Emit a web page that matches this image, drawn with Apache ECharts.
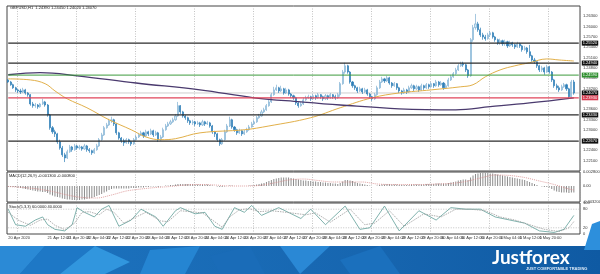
<!DOCTYPE html>
<html><head><meta charset="utf-8">
<script src="https://cdn.jsdelivr.net/npm/echarts/dist/echarts.min.js"></script>
<style>html,body{margin:0;padding:0;background:#fff}#c{width:600px;height:274px}</style>
</head><body><div id="c"></div>
<script>
// ---------------- DATA ----------------
const symbolTitle = 'GBPUSD,H1  1.24390 1.24450 1.24020 1.24070';
const macdTitle = 'MACD(12,26,9) -0.001300 -0.000800';
const stochTitle = 'Stoch(5,3,3) 60.0000 40.0000';
const firstBar = Date.UTC(2020, 3, 20, 20); // 20 Apr 2020 20:00
const barCount = 233;                         // incl. 2 empty bars of chart shift
const firstOpen = 1.2445;
const closes = [
1.2439,1.2431,1.2422,1.2416,1.2413,1.2410,1.2416,1.2407,1.2402,1.2375,
1.2370,1.2372,1.2367,1.2375,1.2381,1.2372,1.2343,1.2306,1.2294,1.2288,
1.2265,1.2247,1.2227,1.2218,1.2236,1.2250,1.2242,1.2253,1.2247,1.2250,
1.2244,1.2253,1.2242,1.2239,1.2233,1.2242,1.2253,1.2271,1.2285,1.2306,
1.2314,1.2326,1.2329,1.2317,1.2291,1.2276,1.2268,1.2262,1.2271,1.2265,
1.2259,1.2271,1.2279,1.2285,1.2291,1.2282,1.2294,1.2288,1.2297,1.2285,
1.2291,1.2271,1.2279,1.2300,1.2311,1.2317,1.2323,1.2329,1.2340,1.2370,
1.2352,1.2340,1.2335,1.2326,1.2320,1.2323,1.2317,1.2320,1.2314,1.2323,
1.2317,1.2320,1.2311,1.2294,1.2288,1.2271,1.2259,1.2271,1.2294,1.2311,
1.2329,1.2308,1.2300,1.2291,1.2297,1.2288,1.2294,1.2300,1.2308,1.2317,
1.2323,1.2335,1.2340,1.2352,1.2358,1.2370,1.2381,1.2402,1.2416,1.2422,
1.2413,1.2419,1.2407,1.2416,1.2404,1.2399,1.2393,1.2378,1.2370,1.2375,
1.2387,1.2393,1.2396,1.2390,1.2399,1.2393,1.2402,1.2396,1.2390,1.2399,
1.2393,1.2402,1.2396,1.2393,1.2402,1.2434,1.2468,1.2486,1.2468,1.2439,
1.2428,1.2422,1.2413,1.2419,1.2410,1.2416,1.2404,1.2396,1.2390,1.2402,
1.2422,1.2439,1.2448,1.2442,1.2451,1.2436,1.2428,1.2434,1.2422,1.2413,
1.2407,1.2416,1.2410,1.2422,1.2428,1.2419,1.2425,1.2416,1.2428,1.2422,
1.2431,1.2425,1.2434,1.2428,1.2439,1.2431,1.2436,1.2422,1.2428,1.2445,
1.2454,1.2463,1.2474,1.2486,1.2492,1.2489,1.2474,1.2457,1.2562,1.2597,
1.2608,1.2591,1.2576,1.2570,1.2565,1.2576,1.2582,1.2570,1.2562,1.2553,
1.2559,1.2550,1.2556,1.2544,1.2553,1.2547,1.2541,1.2550,1.2544,1.2533,
1.2538,1.2527,1.2515,1.2503,1.2498,1.2486,1.2474,1.2480,1.2468,1.2483,
1.2468,1.2445,1.2428,1.2422,1.2416,1.2425,1.2431,1.2419,1.2396,1.2439,
1.2407];
const highs = [
1.2448,1.2442,1.2434,1.2425,1.2419,1.2419,1.2422,1.2419,1.2410,1.2404,
1.2381,1.2378,1.2375,1.2378,1.2390,1.2384,1.2375,1.2346,1.2311,1.2300,
1.2291,1.2271,1.2253,1.2233,1.2242,1.2256,1.2253,1.2259,1.2256,1.2256,
1.2253,1.2259,1.2256,1.2247,1.2242,1.2247,1.2259,1.2276,1.2291,1.2311,
1.2320,1.2332,1.2338,1.2332,1.2320,1.2294,1.2279,1.2274,1.2276,1.2274,
1.2268,1.2276,1.2285,1.2291,1.2297,1.2294,1.2300,1.2297,1.2303,1.2300,
1.2297,1.2294,1.2285,1.2306,1.2317,1.2323,1.2329,1.2335,1.2346,1.2381,
1.2372,1.2355,1.2343,1.2338,1.2329,1.2329,1.2326,1.2326,1.2323,1.2329,
1.2326,1.2326,1.2323,1.2314,1.2297,1.2291,1.2274,1.2276,1.2300,1.2317,
1.2338,1.2332,1.2311,1.2303,1.2303,1.2300,1.2300,1.2306,1.2314,1.2323,
1.2329,1.2340,1.2346,1.2358,1.2364,1.2375,1.2387,1.2407,1.2425,1.2431,
1.2425,1.2428,1.2422,1.2422,1.2419,1.2407,1.2402,1.2396,1.2381,1.2381,
1.2393,1.2399,1.2402,1.2399,1.2404,1.2402,1.2407,1.2404,1.2399,1.2404,
1.2402,1.2407,1.2404,1.2402,1.2407,1.2439,1.2474,1.2495,1.2489,1.2471,
1.2442,1.2431,1.2425,1.2425,1.2422,1.2422,1.2419,1.2407,1.2399,1.2407,
1.2428,1.2445,1.2454,1.2451,1.2457,1.2454,1.2439,1.2439,1.2436,1.2425,
1.2416,1.2422,1.2419,1.2428,1.2434,1.2431,1.2431,1.2428,1.2434,1.2431,
1.2436,1.2434,1.2439,1.2436,1.2445,1.2442,1.2442,1.2439,1.2434,1.2451,
1.2460,1.2468,1.2480,1.2492,1.2498,1.2498,1.2492,1.2477,1.2567,1.2605,
1.2637,1.2614,1.2597,1.2582,1.2576,1.2582,1.2588,1.2585,1.2573,1.2565,
1.2565,1.2562,1.2562,1.2559,1.2559,1.2556,1.2550,1.2556,1.2553,1.2547,
1.2544,1.2541,1.2547,1.2518,1.2509,1.2500,1.2489,1.2486,1.2483,1.2489,
1.2486,1.2471,1.2448,1.2434,1.2428,1.2431,1.2436,1.2434,1.2422,1.2445,
1.2445];
const lows = [
1.2436,1.2428,1.2419,1.2410,1.2407,1.2404,1.2407,1.2402,1.2396,1.2370,
1.2364,1.2364,1.2361,1.2364,1.2372,1.2367,1.2338,1.2300,1.2288,1.2279,
1.2259,1.2242,1.2221,1.2206,1.2215,1.2233,1.2236,1.2239,1.2242,1.2242,
1.2239,1.2242,1.2236,1.2233,1.2227,1.2230,1.2239,1.2250,1.2268,1.2282,
1.2303,1.2311,1.2320,1.2311,1.2285,1.2271,1.2262,1.2253,1.2259,1.2259,
1.2253,1.2256,1.2268,1.2276,1.2282,1.2276,1.2279,1.2282,1.2285,1.2279,
1.2282,1.2265,1.2268,1.2276,1.2297,1.2308,1.2314,1.2320,1.2326,1.2338,
1.2346,1.2335,1.2329,1.2320,1.2314,1.2314,1.2311,1.2314,1.2308,1.2311,
1.2311,1.2314,1.2306,1.2288,1.2279,1.2265,1.2253,1.2256,1.2268,1.2291,
1.2308,1.2303,1.2294,1.2285,1.2288,1.2282,1.2285,1.2291,1.2297,1.2306,
1.2314,1.2320,1.2332,1.2338,1.2349,1.2355,1.2367,1.2378,1.2399,1.2413,
1.2407,1.2410,1.2402,1.2404,1.2399,1.2393,1.2387,1.2372,1.2364,1.2367,
1.2372,1.2384,1.2390,1.2384,1.2387,1.2387,1.2390,1.2390,1.2384,1.2387,
1.2387,1.2390,1.2390,1.2387,1.2390,1.2396,1.2431,1.2463,1.2463,1.2434,
1.2422,1.2416,1.2407,1.2410,1.2404,1.2407,1.2399,1.2390,1.2384,1.2387,
1.2399,1.2419,1.2436,1.2436,1.2439,1.2431,1.2422,1.2425,1.2416,1.2407,
1.2402,1.2404,1.2404,1.2407,1.2419,1.2413,1.2416,1.2410,1.2413,1.2416,
1.2419,1.2419,1.2422,1.2422,1.2425,1.2425,1.2428,1.2416,1.2419,1.2425,
1.2442,1.2451,1.2460,1.2471,1.2483,1.2483,1.2468,1.2451,1.2454,1.2556,
1.2591,1.2585,1.2570,1.2562,1.2559,1.2562,1.2570,1.2565,1.2556,1.2547,
1.2547,1.2544,1.2544,1.2538,1.2541,1.2541,1.2535,1.2538,1.2538,1.2527,
1.2530,1.2521,1.2509,1.2498,1.2492,1.2480,1.2468,1.2468,1.2460,1.2466,
1.2463,1.2439,1.2422,1.2416,1.2410,1.2413,1.2422,1.2413,1.2390,1.2393,
1.2402];
// moving averages: [bar index, price]
const maFast = [[0,1.2448],[9,1.2445],[15,1.2434],[19,1.2413],[24,1.2390],[32,1.2364],[41,1.2329],[50,1.2300],[56,1.2279],[62,1.2271],[68,1.2274],[78,1.2291],[96,1.2300],[106,1.2311],[123,1.2335],[135,1.2364],[148,1.2393],[159,1.2407],[172,1.2416],[184,1.2425],[189,1.2431],[194,1.2454],[200,1.2474],[206,1.2486],[212,1.2495],[219,1.2506],[224,1.2503],[230,1.2500]];
const maSlow = [[0,1.2460],[13,1.2466],[28,1.2457],[52,1.2436],[78,1.2416],[100,1.2393],[119,1.2381],[135,1.2372],[159,1.2361],[182,1.2358],[196,1.2367],[212,1.2378],[230,1.2393]];
// horizontal levels
const levelValues = [1.2552, 1.2494, 1.2459, 1.2393, 1.2343, 1.2267];
const levelKinds  = ['black','black','green','red','black','black'];
const bidPrice = 1.2407;
// MACD histogram per bar and signal line [bar, value]
const macdHist = [
-0.0002,-0.0002,-0.0002,-0.0002,-0.0003,-0.0004,-0.0005,-0.0006,-0.0007,-0.0008,
-0.0009,-0.0010,-0.0011,-0.0011,-0.0012,-0.0012,-0.0014,-0.0017,-0.0019,-0.0021,
-0.0022,-0.0023,-0.0025,-0.0026,-0.0027,-0.0027,-0.0028,-0.0028,-0.0028,-0.0028,
-0.0027,-0.0027,-0.0026,-0.0025,-0.0024,-0.0022,-0.0020,-0.0018,-0.0016,-0.0013,
-0.0011,-0.0008,-0.0006,-0.0005,-0.0005,-0.0005,-0.0005,-0.0005,-0.0005,-0.0005,
-0.0004,-0.0004,-0.0004,-0.0003,-0.0003,-0.0003,-0.0002,-0.0002,-0.0001,-0.0001,
-0.0001,-0.0002,-0.0001,0.0000,0.0001,0.0001,0.0002,0.0002,0.0003,0.0004,
0.0004,0.0004,0.0004,0.0004,0.0004,0.0004,0.0003,0.0003,0.0003,0.0003,
0.0003,0.0003,0.0002,0.0001,0.0000,-0.0001,-0.0002,-0.0002,-0.0001,0.0000,
0.0001,0.0001,0.0000,0.0000,0.0000,0.0000,0.0000,0.0000,0.0001,0.0001,
0.0002,0.0003,0.0004,0.0005,0.0006,0.0008,0.0010,0.0012,0.0014,0.0015,
0.0016,0.0017,0.0017,0.0017,0.0017,0.0016,0.0015,0.0014,0.0013,0.0012,
0.0011,0.0011,0.0010,0.0010,0.0009,0.0009,0.0008,0.0008,0.0007,0.0007,
0.0006,0.0006,0.0005,0.0005,0.0004,0.0006,0.0009,0.0012,0.0012,0.0011,
0.0010,0.0008,0.0006,0.0005,0.0004,0.0003,0.0002,0.0001,0.0000,0.0000,
0.0001,0.0002,0.0003,0.0003,0.0004,0.0004,0.0003,0.0003,0.0003,0.0002,
0.0002,0.0002,0.0002,0.0002,0.0003,0.0003,0.0003,0.0003,0.0003,0.0003,
0.0004,0.0004,0.0004,0.0004,0.0005,0.0005,0.0005,0.0005,0.0005,0.0006,
0.0007,0.0008,0.0009,0.0011,0.0012,0.0013,0.0013,0.0012,0.0017,0.0021,
0.0024,0.0025,0.0026,0.0026,0.0026,0.0026,0.0025,0.0025,0.0024,0.0023,
0.0022,0.0021,0.0020,0.0019,0.0018,0.0017,0.0016,0.0015,0.0014,0.0013,
0.0012,0.0010,0.0008,0.0006,0.0004,0.0002,0.0000,-0.0001,-0.0002,-0.0002,
-0.0003,-0.0006,-0.0009,-0.0011,-0.0012,-0.0013,-0.0013,-0.0013,-0.0014,-0.0013,
-0.0013];
const macdSignal = [[0,-0.0001],[6,-0.0003],[12,-0.0006],[18,-0.0011],[24,-0.0018],[30,-0.0023],[36,-0.0024],[42,-0.0018],[48,-0.0010],[54,-0.0006],[60,-0.0003],[66,-0.0001],[72,0.0002],[78,0.0003],[84,0.0002],[90,0.0000],[96,0.0000],[102,0.0001],[108,0.0006],[114,0.0012],[120,0.0014],[126,0.0011],[132,0.0008],[138,0.0008],[144,0.0008],[150,0.0004],[156,0.0003],[162,0.0003],[168,0.0003],[174,0.0004],[180,0.0005],[186,0.0009],[192,0.0016],[198,0.0022],[204,0.0021],[210,0.0017],[216,0.0010],[222,0.0003],[228,-0.0006],[230,-0.0008]];
// stochastic [bar, value] and its levels
const stochK = [[0,80],[3,30],[7,25],[11,45],[14,55],[16,30],[19,15],[23,10],[26,30],[28,85],[31,70],[35,55],[38,80],[41,92],[45,25],[50,45],[54,80],[60,55],[63,25],[68,75],[70,85],[76,65],[80,70],[84,25],[87,15],[92,85],[96,70],[99,92],[103,60],[110,85],[119,50],[123,80],[129,30],[137,90],[143,15],[147,20],[153,90],[159,10],[167,75],[174,45],[180,85],[186,80],[192,80],[198,55],[204,45],[210,35],[216,10],[222,5],[226,15],[230,60]];
const stochD = [[0,70],[4,45],[9,28],[13,45],[16,48],[19,28],[23,14],[27,35],[30,70],[33,72],[37,62],[40,80],[43,70],[47,35],[52,55],[56,70],[62,42],[65,40],[70,75],[74,72],[79,68],[83,45],[87,22],[90,55],[94,78],[98,82],[102,72],[107,75],[113,70],[121,62],[125,68],[131,38],[139,80],[145,30],[149,35],[155,75],[161,25],[169,65],[176,55],[182,80],[188,80],[194,75],[200,55],[206,45],[212,30],[218,15],[224,8],[228,20],[230,40]];
const stochLevels = [80, 20];

// ---------------- BUILD ----------------
const MON = ['Jan','Feb','Mar','Apr','May','Jun','Jul','Aug','Sep','Oct','Nov','Dec'];
const cats = [];
for (let t = firstBar; cats.length < barCount; t += 3600000) {
  const d = new Date(t); const wd = d.getUTCDay();
  if (wd === 0 || wd === 6) continue;
  cats.push(d);
}
const catNames = cats.map((d, i) => i === 0
  ? d.getUTCDate() + ' ' + MON[d.getUTCMonth()] + ' ' + d.getUTCFullYear()
  : d.getUTCDate() + ' ' + MON[d.getUTCMonth()] + ' ' + String(d.getUTCHours()).padStart(2,'0') + ':00');
const dayStart = i => cats[i] && cats[i].getUTCHours() === 0;
const candles = closes.map((c, i) => [i === 0 ? firstOpen : closes[i-1], c, lows[i], highs[i]]);
const lastIdx = barCount - 1;

const kindStyle = {
  black: {line:'#2b2b2b', box:'#111', w:1.3},
  green: {line:'#3d9a3d', box:'#2f8f2f', w:1},
  red:   {line:'#e0455a', box:'#d63a4f', w:1.3},
  bid:   {line:'#cfcfcf', box:'#111', w:1}
};
const FONT = 'Liberation Sans, Arial, sans-serif';
const L = 7, R = 20;
function xAx(gi, showLabel) {
  return {
    type:'category', gridIndex:gi, data:catNames, boundaryGap:true,
    axisLine:{show:false}, axisTick:{show:false},
    splitLine:{show:true, interval:(i)=>dayStart(i), lineStyle:{color:'#9a9a9a', type:[1,1.5], width:0.6}},
    axisLabel: showLabel ? {show:true, showMinLabel:true, hideOverlap:false, interval:(i)=> i % 8 === 0 && i <= 224, fontSize:4, color:'#333', align:'left', margin:2, fontFamily:FONT} : {show:false}
  };
}
function levelSeries(v, kind, z) {
  const s = kindStyle[kind];
  return {type:'line', xAxisIndex:0, yAxisIndex:0, data:[[0,v],[lastIdx,v]], showSymbol:false, silent:true, z:z,
    lineStyle:{color:s.line, width:s.w}, 
    endLabel:{show:true, distance:3, formatter:()=>v.toFixed(5), fontSize:4, color:'#fff', backgroundColor:s.box, padding:[1,1,0,1], fontFamily:FONT}};
}
const series = [
  levelSeries(bidPrice, 'bid', 2),
  {type:'candlestick', xAxisIndex:0, yAxisIndex:0, data:candles, barWidth:1.6, z:3,
   itemStyle:{color:'#d3e8f5', color0:'#2f7fb8', borderColor:'#7fb0d3', borderColor0:'#2f7fb8', borderWidth:0.7}},
  {type:'line', xAxisIndex:0, yAxisIndex:0, data:maFast, smooth:0.4, showSymbol:false, lineStyle:{color:'#e2b04a', width:1}, z:5},
  {type:'line', xAxisIndex:0, yAxisIndex:0, data:maSlow, smooth:0.4, showSymbol:false, lineStyle:{color:'#4a3a6e', width:1.3}, z:5}
].concat(levelValues.map((v,k)=>levelSeries(v, levelKinds[k], 6))).concat([
  {type:'bar', xAxisIndex:1, yAxisIndex:1, data:macdHist, barWidth:0.8, itemStyle:{color:'#8c8c8c'}},
  {type:'line', xAxisIndex:1, yAxisIndex:1, data:macdSignal, smooth:0.3, showSymbol:false, lineStyle:{color:'#d88a8a', width:0.8, type:[1,1]}}
]).concat(stochLevels.map(v=>({type:'line', xAxisIndex:2, yAxisIndex:2, data:[[0,v],[lastIdx,v]], showSymbol:false, silent:true,
  lineStyle:{color:'#999', type:[1,1.5], width:0.6}}))).concat([
  {type:'line', xAxisIndex:2, yAxisIndex:2, data:stochK, showSymbol:false, lineStyle:{color:'#5f9e98', width:0.8}},
  {type:'line', xAxisIndex:2, yAxisIndex:2, data:stochD, showSymbol:false, lineStyle:{color:'#9a9a9a', width:0.8, type:[1.5,1]}}
]);
const option = {
  animation:false,
  backgroundColor:'#fff',
  grid:[
    {left:L, right:R, top:6, height:165, show:true, borderColor:'#444', borderWidth:1, backgroundColor:'#fff', outerBoundsMode:'none'},
    {left:L, right:R, top:172, height:30, show:true, borderColor:'#444', borderWidth:1, backgroundColor:'#fff', outerBoundsMode:'none'},
    {left:L, right:R, top:203, height:31, show:true, borderColor:'#444', borderWidth:1, backgroundColor:'#fff', outerBoundsMode:'none'}
  ],
  xAxis:[xAx(0,false), xAx(1,false), xAx(2,true)],
  yAxis:[
    {type:'value', gridIndex:0, position:'right', min:1.218, max:1.266, interval:0.003,
     axisLine:{show:false}, axisTick:{show:false}, splitLine:{show:false},
     axisLabel:{fontSize:4, color:'#333', margin:3, fontFamily:FONT, showMinLabel:false, showMaxLabel:false, formatter:v=>v.toFixed(5)}},
    {type:'value', gridIndex:1, position:'right', min:-0.0032, max:0.0028, interval:0.0004,
     axisLine:{show:false}, axisTick:{show:false}, splitLine:{show:false},
     axisLabel:{fontSize:4, color:'#333', margin:3, fontFamily:FONT, formatter:v=> Math.abs(v-0.0028)<1e-9 ? '0.002800' : Math.abs(v)<1e-9 ? '0.00' : Math.abs(v+0.0032)<1e-9 ? '-0.003200' : ''}},
    {type:'value', gridIndex:2, position:'right', min:0, max:100, interval:20,
     axisLine:{show:false}, axisTick:{show:false}, splitLine:{show:false},
     axisLabel:{fontSize:4, color:'#333', margin:3, fontFamily:FONT, formatter:v=> (v===0||v===20||v===80||v===100) ? String(v) : ''}}
  ],
  series: series,
  graphic:[
    {type:'text', left:10, top:6, style:{text:symbolTitle, fill:'#222', font:'4px '+FONT}},
    {type:'text', left:9, top:174, style:{text:macdTitle, fill:'#222', font:'4px '+FONT}},
    {type:'text', left:9, top:205, style:{text:stochTitle, fill:'#222', font:'4px '+FONT}},
    {type:'rect', shape:{x:0,y:246,width:600,height:28}, style:{fill:{type:'linear',x:0,y:0,x2:1,y2:0,colorStops:[{offset:0,color:'#1d74c0'},{offset:0.6,color:'#1766b0'},{offset:1,color:'#0f5aa3'}]}}, z:10},
    {type:'polygon', shape:{points:[[0,246],[45,246],[20,274],[0,274]]}, style:{fill:'#2b8ad6'}, z:11},
    {type:'polygon', shape:{points:[[45,246],[95,246],[60,274],[20,274]]}, style:{fill:'#1e78c6'}, z:11},
    {type:'polygon', shape:{points:[[95,246],[130,262],[105,274],[60,274]]}, style:{fill:'#3196de'}, z:11},
    {type:'polygon', shape:{points:[[150,250],[200,246],[185,274],[140,274]]}, style:{fill:'#2585d2'}, z:11},
    {type:'polygon', shape:{points:[[210,256],[250,246],[265,274],[220,274]]}, style:{fill:'#1a6cb8'}, z:11},
    {type:'polygon', shape:{points:[[280,246],[330,246],[300,274]]}, style:{fill:'#2a88d5'}, z:11},
    {type:'polygon', shape:{points:[[340,260],[380,246],[400,274],[350,274]]}, style:{fill:'#1b70bd'}, z:11},
    {type:'polygon', shape:{points:[[592,224],[600,221],[600,250],[584,250]]}, style:{fill:'#2d8fdc'}, z:11},
    {type:'text', left:492, top:248, style:{text:'Justforex', font:'bold 19px Lato, "Open Sans", sans-serif', fill:'#fff'}, z:12},
    {type:'text', left:526, top:267, style:{text:'JUST COMFORTABLE TRADING', font:'bold 4px '+FONT, fill:'#dbe9f7'}, z:12}
  ]
};
const chart = echarts.init(document.getElementById('c'), null, {renderer:'canvas'});
chart.setOption(option);
</script></body></html>
